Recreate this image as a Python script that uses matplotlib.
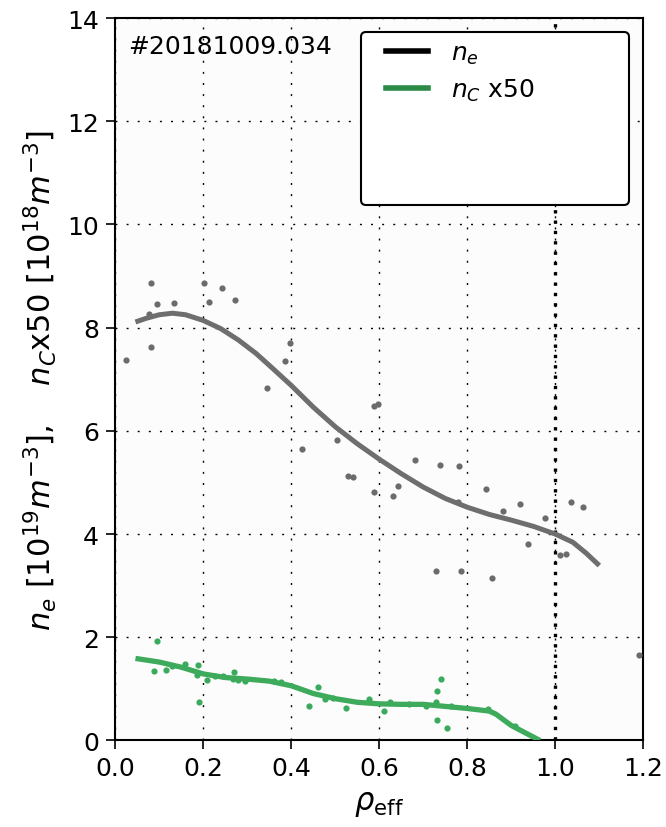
import matplotlib
matplotlib.use("Agg")
import matplotlib.pyplot as plt
from matplotlib.lines import Line2D
from matplotlib.legend_handler import HandlerLine2D

# grey (n_e) measured points
ne_x = [0.025, 0.082, 0.095, 0.077, 0.133, 0.081, 0.202, 0.214, 0.243, 0.273,
        0.397, 0.385, 0.346, 0.424, 0.505, 0.528, 0.540, 0.589, 0.598, 0.589,
        0.631, 0.643, 0.681, 0.739, 0.780, 0.778, 0.728, 0.785, 0.842, 0.855,
        0.880, 0.920, 0.937, 0.977, 1.010, 1.025, 1.036, 1.063, 1.190]
ne_y = [7.38, 8.86, 8.45, 8.27, 8.48, 7.63, 8.86, 8.50, 8.76, 8.54,
        7.70, 7.35, 6.83, 5.64, 5.82, 5.13, 5.10, 6.48, 6.52, 4.81,
        4.74, 4.94, 5.43, 5.33, 5.31, 4.63, 3.28, 3.28, 4.87, 3.15,
        4.45, 4.58, 3.81, 4.32, 3.59, 3.61, 4.62, 4.52, 1.66]

# grey (n_e) fitted profile
ne_fit_x = [0.046, 0.07, 0.10, 0.13, 0.16, 0.20, 0.24, 0.28, 0.32, 0.35, 0.40,
            0.45, 0.50, 0.55, 0.60, 0.65, 0.70, 0.75, 0.80, 0.85, 0.90, 0.95,
            1.00, 1.04, 1.07, 1.10]
ne_fit_y = [8.11, 8.18, 8.25, 8.28, 8.25, 8.14, 7.98, 7.76, 7.50, 7.27, 6.88,
            6.46, 6.08, 5.75, 5.45, 5.17, 4.91, 4.69, 4.52, 4.38, 4.27, 4.15,
            4.00, 3.84, 3.63, 3.39]

# green (n_C x50) measured points
nc_x = [0.095, 0.088, 0.115, 0.128, 0.159, 0.189, 0.190, 0.186, 0.209, 0.227,
        0.245, 0.271, 0.268, 0.278, 0.294, 0.360, 0.377, 0.440, 0.460, 0.477,
        0.495, 0.525, 0.577, 0.610, 0.624, 0.668, 0.707, 0.728, 0.740, 0.732,
        0.732, 0.753, 0.762, 0.848, 0.908]
nc_y = [1.92, 1.35, 1.37, 1.45, 1.48, 1.47, 0.75, 1.27, 1.17, 1.24,
        1.25, 1.33, 1.19, 1.17, 1.15, 1.15, 1.14, 0.67, 1.03, 0.80,
        0.82, 0.62, 0.80, 0.58, 0.75, 0.71, 0.67, 0.74, 1.19, 0.95,
        0.40, 0.24, 0.66, 0.61, 0.29]

# green fitted profile
nc_fit_x = [0.046, 0.10, 0.15, 0.20, 0.25, 0.30, 0.35, 0.40, 0.45, 0.50, 0.55,
            0.60, 0.65, 0.70, 0.75, 0.80, 0.85, 0.865, 0.90, 0.965]
nc_fit_y = [1.59, 1.52, 1.42, 1.29, 1.22, 1.19, 1.15, 1.06, 0.91, 0.81, 0.74,
            0.71, 0.70, 0.70, 0.66, 0.62, 0.57, 0.51, 0.29, 0.0]

x_ticks = [0.0, 0.2, 0.4, 0.6, 0.8, 1.0, 1.2]
y_ticks = [0, 2, 4, 6, 8, 10, 12, 14]

shot_label = "#20181009.034"

plt.rcParams['font.family'] = ['DejaVu Sans']
plt.rcParams['mathtext.fontset'] = 'dejavusans'

fig = plt.figure(figsize=(6.66, 8.28), dpi=100)
fig.patch.set_facecolor('white')
ax = fig.add_axes([0.173, 0.1045, 0.793, 0.8725])
ax.set_facecolor('#fcfcfc')

ax.grid(True, linestyle=(0, (1.4, 6.6)), color='black', linewidth=1.0)
ax.axvline(1.0, color='black', linestyle=(0, (1, 2.1)), linewidth=2.4, zorder=2)

ax.scatter(ne_x, ne_y, s=20, color='#6b6b6b', zorder=3, linewidths=0, clip_on=False)
ax.plot(ne_fit_x, ne_fit_y, color='#6e6e6e', linewidth=3.6, zorder=4, solid_capstyle='butt')
ax.scatter(nc_x, nc_y, s=20, color='#3aaa5c', zorder=3, linewidths=0)
ax.plot(nc_fit_x, nc_fit_y, color='#3daa5c', linewidth=3.8, zorder=4, solid_capstyle='butt')

ax.set_xlim(0, 1.2)
ax.set_ylim(0, 14)
ax.set_xticks(x_ticks)
ax.set_yticks(y_ticks)
ax.set_xticklabels([f"{v:.1f}" for v in x_ticks])
ax.tick_params(labelsize=18, direction='out', length=6.5, width=1.2, pad=5)
for sp in ax.spines.values():
    sp.set_linewidth(1.5)

ax.set_xlabel(r"$\rho_{\mathrm{eff}}$", fontsize=22, labelpad=6)
ax.set_ylabel(r"$n_e$ $[10^{19}m^{-3}]$,    $n_C$x50 $[10^{18}m^{-3}]$", fontsize=22, labelpad=6)

ax.text(0.024, 0.978, shot_label, transform=ax.transAxes, fontsize=18,
        ha='left', va='top')

handles = [Line2D([], [], color='black', linewidth=4),
           Line2D([], [], color='#2a8a46', linewidth=4),
           Line2D([], [], color='none'),
           Line2D([], [], color='none')]
labels = [r"$n_e$", r"$n_C$ x50", " ", " "]
leg = ax.legend(handles, labels, loc='upper left', fontsize=18, frameon=True,
                fancybox=True, framealpha=1, edgecolor='black',
                bbox_to_anchor=(0.466, 0.980, 0.506, 0.0), mode='expand',
                handlelength=2.33, handletextpad=0.92, borderpad=0.35,
                labelspacing=0.42, borderaxespad=0,
                handler_map={Line2D: HandlerLine2D(xpad=0.65)})
leg.get_frame().set_linewidth(1.5)
leg.get_texts()[3].set_fontsize(36)

fig.savefig("out.png", dpi=100)
